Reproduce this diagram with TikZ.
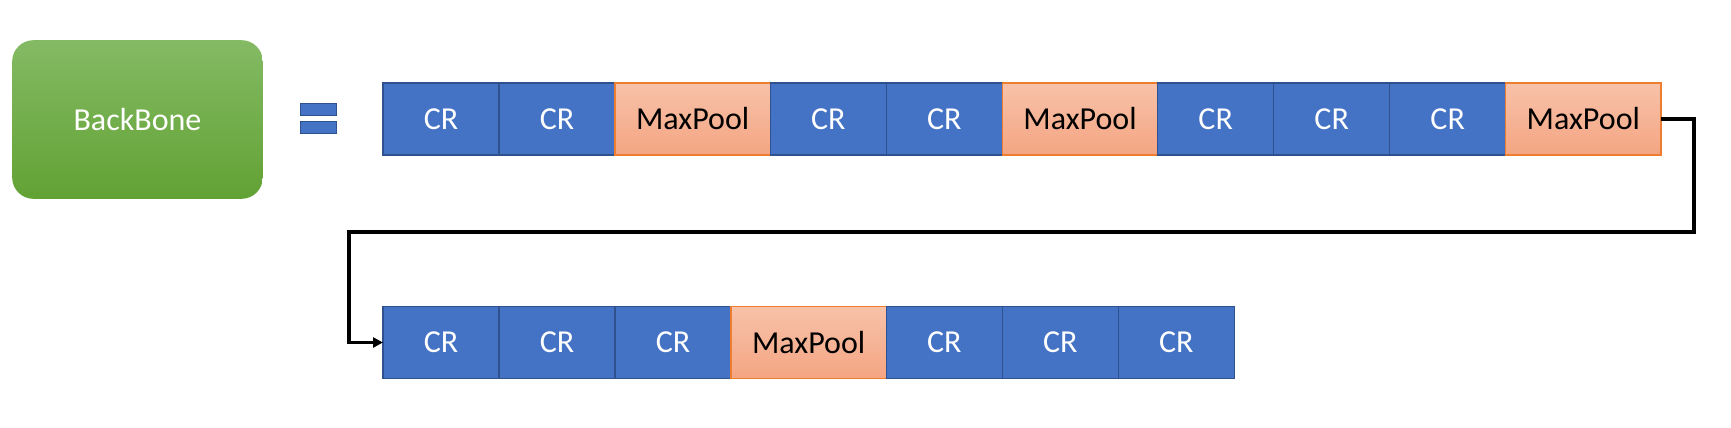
\documentclass[tikz,border=0pt]{standalone}
\usepackage{fontspec}
\setmainfont{Carlito}
\usetikzlibrary{arrows.meta}
\definecolor{crfill}{HTML}{4472C4}
\definecolor{crdraw}{HTML}{2F528F}
\definecolor{mptop}{HTML}{F7C2A9}
\definecolor{mpbot}{HTML}{F4A582}
\definecolor{mpdraw}{HTML}{ED7D31}
\definecolor{gtop}{HTML}{84BA64}
\definecolor{gbot}{HTML}{62A234}
\tikzset{
  blk/.style={rectangle, inner sep=0pt, outer sep=0pt, minimum height=54pt,
    font=\fontsize{24pt}{28pt}\selectfont},
  crbox/.style={blk, fill=crfill, draw=crdraw, line width=1.1pt, minimum width=87pt, text=white},
  mpbox/.style={blk, top color=mptop, bottom color=mpbot, draw=mpdraw, line width=0.8pt, minimum width=116.5pt, text=black},
  bbbox/.style={rectangle, rounded corners=16pt, inner sep=0pt, minimum width=188pt, minimum height=119pt,
    top color=gtop, bottom color=gbot, draw=none, text=white, font=\fontsize{24pt}{28pt}\selectfont},
  eqbar/.style={rectangle, inner sep=0pt, outer sep=0pt, minimum width=27.5pt, minimum height=9.5pt,
    fill=crfill, draw=crdraw, line width=0.8pt},
  conn/.style={draw=black, line width=2.4pt, -{Triangle[length=7.5pt,width=7.5pt]}}
}
\begin{document}
\begin{tikzpicture}[x=0.75pt,y=-0.75pt]
\useasboundingbox (0,0) rectangle (1731,428);
% BackBone
\node[bbbox] (bb) at (137.5,119.5) {BackBone};
% equals sign
\node[eqbar] (eq1) at (318.5,109.5) {};
\node[eqbar] (eq2) at (318.5,127.5) {};
% row 1
\node[crbox, anchor=west] (a1) at (383,119) {CR};
\node[crbox, anchor=west] (a2) at (a1.east) {CR};
\node[mpbox, anchor=west] (a3) at (a2.east) {MaxPool};
\node[crbox, anchor=west] (a4) at (a3.east) {CR};
\node[crbox, anchor=west] (a5) at (a4.east) {CR};
\node[mpbox, anchor=west] (a6) at (a5.east) {MaxPool};
\node[crbox, anchor=west] (a7) at (a6.east) {CR};
\node[crbox, anchor=west] (a8) at (a7.east) {CR};
\node[crbox, anchor=west] (a9) at (a8.east) {CR};
\node[mpbox, anchor=west] (a10) at (a9.east) {MaxPool};
% row 2
\node[crbox, anchor=west] (b1) at (383,342.5) {CR};
\node[crbox, anchor=west] (b2) at (b1.east) {CR};
\node[crbox, anchor=west] (b3) at (b2.east) {CR};
\node[mpbox, anchor=west] (b4) at (b3.east) {MaxPool};
\node[crbox, anchor=west] (b5) at (b4.east) {CR};
\node[crbox, anchor=west] (b6) at (b5.east) {CR};
\node[crbox, anchor=west] (b7) at (b6.east) {CR};
% connector
\coordinate (r) at (1694,232);
\coordinate (l) at (349,232);
\draw[conn] (a10.east) -| (r) -- (l) |- (b1.west);
\end{tikzpicture}
\end{document}
